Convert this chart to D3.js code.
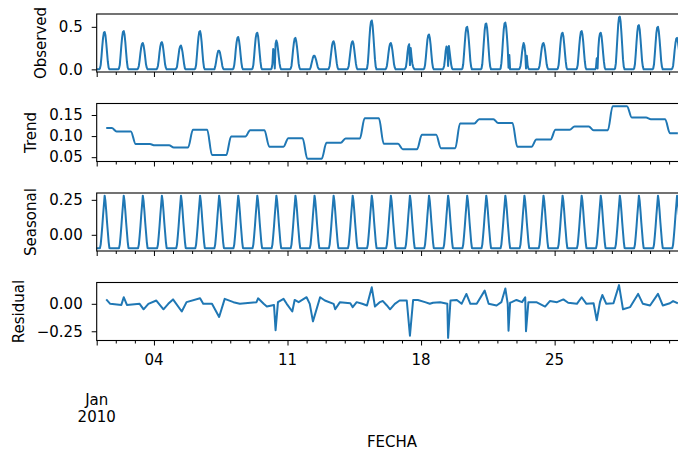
<!DOCTYPE html>
<html>
<head>
<meta charset="utf-8">
<script src="https://cdn.jsdelivr.net/npm/d3@7"></script>
<style>
  body { margin: 0; background: #fff; }
  svg { display: block; font-family: "DejaVu Sans", sans-serif; }
</style>
</head>
<body>
<div id="chart"></div>
<script>
// observed values for hours 04..15 of each day, Jan 1 .. Jan 31 (night hours are 0)
const obsDay = [
  [0.01, 0.05, 0.15, 0.27, 0.37, 0.43, 0.44, 0.40, 0.31, 0.20, 0.09, 0.02],
  [0.01, 0.05, 0.16, 0.28, 0.38, 0.44, 0.45, 0.41, 0.32, 0.20, 0.09, 0.02],
  [0.01, 0.04, 0.11, 0.19, 0.26, 0.30, 0.31, 0.28, 0.22, 0.14, 0.06, 0.02],
  [0.01, 0.04, 0.11, 0.20, 0.27, 0.31, 0.32, 0.29, 0.22, 0.14, 0.06, 0.02],
  [0.01, 0.03, 0.10, 0.17, 0.24, 0.27, 0.28, 0.25, 0.20, 0.13, 0.06, 0.01],
  [0.01, 0.05, 0.16, 0.28, 0.38, 0.44, 0.45, 0.41, 0.32, 0.20, 0.09, 0.02],
  [0.00, 0.03, 0.08, 0.14, 0.19, 0.22, 0.22, 0.20, 0.15, 0.10, 0.04, 0.01],
  [0.01, 0.05, 0.13, 0.24, 0.32, 0.37, 0.38, 0.34, 0.27, 0.17, 0.08, 0.02],
  [0.01, 0.05, 0.15, 0.27, 0.37, 0.42, 0.43, 0.39, 0.30, 0.19, 0.09, 0.02],
  [0.01, 0.06, 0.24, 0.20, 0.01, 0.30, 0.34, 0.31, 0.24, 0.15, 0.07, 0.02],
  [0.01, 0.04, 0.13, 0.23, 0.31, 0.36, 0.37, 0.33, 0.26, 0.17, 0.07, 0.02],
  [0.00, 0.02, 0.06, 0.10, 0.14, 0.16, 0.16, 0.14, 0.11, 0.07, 0.03, 0.01],
  [0.01, 0.04, 0.12, 0.20, 0.28, 0.32, 0.33, 0.30, 0.23, 0.15, 0.07, 0.02],
  [0.01, 0.04, 0.12, 0.20, 0.28, 0.32, 0.33, 0.30, 0.23, 0.15, 0.07, 0.02],
  [0.01, 0.07, 0.20, 0.36, 0.49, 0.56, 0.575, 0.52, 0.40, 0.26, 0.12, 0.03],
  [0.01, 0.04, 0.11, 0.19, 0.26, 0.30, 0.31, 0.28, 0.22, 0.14, 0.06, 0.02],
  [0.01, 0.03, 0.10, 0.20, 0.27, 0.295, 0.05, 0.25, 0.15, 0.07, 0.03, 0.01],
  [0.01, 0.05, 0.14, 0.25, 0.35, 0.40, 0.41, 0.37, 0.29, 0.18, 0.08, 0.02],
  [0.01, 0.04, 0.12, 0.22, 0.27, 0.25, 0.04, 0.275, 0.20, 0.12, 0.05, 0.01],
  [0.01, 0.06, 0.18, 0.31, 0.43, 0.49, 0.50, 0.45, 0.35, 0.23, 0.10, 0.03],
  [0.01, 0.06, 0.19, 0.33, 0.46, 0.53, 0.54, 0.49, 0.38, 0.24, 0.11, 0.03],
  [0.01, 0.07, 0.19, 0.34, 0.47, 0.54, 0.55, 0.50, 0.39, 0.25, 0.02, 0.17],
  [0.01, 0.04, 0.11, 0.20, 0.27, 0.31, 0.28, 0.20, 0.01, 0.16, 0.05, 0.01],
  [0.01, 0.04, 0.11, 0.19, 0.26, 0.30, 0.31, 0.28, 0.22, 0.14, 0.06, 0.02],
  [0.01, 0.05, 0.15, 0.27, 0.37, 0.42, 0.43, 0.39, 0.30, 0.19, 0.09, 0.02],
  [0.01, 0.05, 0.16, 0.28, 0.38, 0.44, 0.45, 0.41, 0.32, 0.20, 0.09, 0.02],
  [0.02, 0.13, 0.01, 0.25, 0.37, 0.42, 0.43, 0.39, 0.30, 0.19, 0.09, 0.02],
  [0.01, 0.07, 0.22, 0.38, 0.53, 0.61, 0.62, 0.56, 0.43, 0.28, 0.12, 0.03],
  [0.01, 0.06, 0.18, 0.32, 0.44, 0.51, 0.52, 0.47, 0.36, 0.23, 0.10, 0.03],
  [0.01, 0.06, 0.18, 0.31, 0.43, 0.49, 0.50, 0.45, 0.35, 0.23, 0.10, 0.03],
  [0.01, 0.04, 0.13, 0.23, 0.31, 0.36, 0.37, 0.33, 0.26, 0.17, 0.07, 0.02]
];

// seasonal component, one value per hour of the day (same every day)
const seasonalProfile = [
  -0.097, -0.097, -0.097, -0.097, -0.097, -0.07, -0.01, 0.06, 0.14, 0.21, 0.28, 0.24,
  0.17, 0.09, 0.02, -0.05, -0.095, -0.097, -0.097, -0.097, -0.097, -0.097, -0.097, -0.097
];

// trend plateau level for each day
const trendLevels = [
  0.119, 0.111, 0.081, 0.078, 0.073, 0.115, 0.055, 0.099, 0.114, 0.075, 0.095,
  0.046, 0.084, 0.094, 0.142, 0.082, 0.069, 0.103, 0.071, 0.130, 0.140, 0.131,
  0.075, 0.092, 0.115, 0.123, 0.114, 0.171, 0.144, 0.140, 0.107
];

// residual: [hour since Jan 1 00:00, value]
const residPoints = [
  [12, 0.04], [17, 0.0], [31, -0.01], [34, 0.06], [38, -0.01], [54, 0.0], [59, -0.05],
  [65, 0.0], [75, 0.03], [84, -0.05], [90, 0.0], [96, 0.04], [107, -0.07], [113, 0.015],
  [130, 0.05], [134, 0.0], [145, 0.0], [154, -0.12], [161, 0.045], [172, 0.015], [180, 0.0],
  [201, 0.015], [203, 0.05], [210, 0.0], [214, -0.025], [223, -0.01], [225, -0.24], [228, 0.015],
  [235, 0.045], [239, 0.0], [246, -0.07], [249, 0.035], [254, 0.015], [264, 0.06], [268, 0.0],
  [272, -0.16], [281, 0.06], [287, 0.03], [298, 0.0], [300, -0.05], [306, 0.015], [319, 0.005],
  [322, -0.03], [327, 0.015], [334, 0.0], [340, -0.015], [346, 0.15], [350, -0.025], [356, 0.015],
  [360, 0.025], [365, -0.015], [369, -0.05], [375, 0.0], [381, 0.03], [390, 0.03], [394, -0.29],
  [398, 0.035], [404, 0.035], [413, 0.015], [419, 0.0], [423, 0.01], [432, 0.015], [441, 0.0],
  [442, -0.31], [445, 0.03], [453, 0.035], [459, 0.0], [465, 0.09], [470, 0.0], [478, 0.0],
  [488, 0.12], [493, 0.0], [503, -0.015], [509, 0.015], [514, 0.14], [517, 0.0], [518, -0.245],
  [520, 0.01], [522, 0.015], [528, 0.035], [535, 0.015], [539, 0.06], [540, -0.25], [543, 0.015],
  [553, 0.015], [564, -0.025], [570, 0.025], [579, 0.015], [587, 0.04], [593, 0.01], [604, 0.0],
  [610, 0.06], [616, 0.0], [625, 0.005], [629, -0.15], [633, 0.015], [636, 0.08], [641, 0.0],
  [650, 0.005], [657, 0.17], [662, -0.05], [671, -0.03], [681, 0.09], [687, 0.0], [696, -0.015],
  [706, 0.09], [712, -0.015], [721, 0.005], [725, 0.025], [731, 0.005]
];

const panelNames = ["Observed", "Trend", "Seasonal", "Residual"];
const yTicks = [[0, 0.5], [0.05, 0.10, 0.15], [0, 0.25], [-0.25, 0]];
const yFormats = [".1f", ".2f", ".2f", ".2f"];
const xTitle = "FECHA";
const monthLabel = ["Jan", "2010"];

const W = 678, H = 449;
const left = 96.7, right = 687.4;
const panelTop = [14, 103.5, 193, 282.5], panelH = 58;
const blue = "#1f77b4";
const fontSize = 15;

const svg = d3.select("#chart").append("svg").attr("width", W).attr("height", H);

const t0 = Date.UTC(2010, 0, 1);
const hourDate = (h) => new Date(t0 + h * 36e5);
const lastHour = obsDay.length * 24 - 1;
const x = d3.scaleUtc().domain([hourDate(0), hourDate(lastHour)]).range([left, right]);

// lay the read values onto the hourly grid
const observed = [];
obsDay.forEach((row, d) => {
  for (let h = 0; h < 24; h++) {
    const v = h >= 4 && h < 4 + row.length ? row[h - 4] : 0;
    observed.push([d * 24 + h, v]);
  }
});
const seasonal = [];
obsDay.forEach((row, d) => {
  seasonalProfile.forEach((v, h) => seasonal.push([d * 24 + h, v]));
});
const trend = [];
trendLevels.forEach((v, d) => {
  trend.push([Math.max(12, d * 24 + 1), v], [Math.min(lastHour - 12, d * 24 + 19), v]);
});
const series = [observed, trend, seasonal, residPoints];

const days = d3.utcDay.range(hourDate(0), hourDate(lastHour + 1));
const majorDays = days.filter((d) => d.getUTCDay() === 1 || d.getUTCDate() === 1);
const minorDays = days.filter((d) => !majorDays.includes(d));

series.forEach((data, i) => {
  const top = panelTop[i];
  const bottom = top + panelH;
  const [lo, hi] = d3.extent(data, (d) => d[1]);
  const pad = (hi - lo) * 0.05;
  const y = d3.scaleLinear().domain([lo - pad, hi + pad]).range([bottom, top]);

  const g = svg.append("g");

  g.append("path")
    .datum(data)
    .attr("fill", "none")
    .attr("stroke", blue)
    .attr("stroke-width", 2)
    .attr("stroke-linejoin", "round")
    .attr("d", d3.line()
      .x((d) => x(hourDate(d[0])))
      .y((d) => y(d[1]))
      .curve(i === 1 ? d3.curveMonotoneX : d3.curveLinear));

  // y axis
  const ya = g.append("g")
    .attr("transform", `translate(${left},0)`)
    .call(d3.axisLeft(y).tickValues(yTicks[i]).tickFormat(d3.format(yFormats[i]))
      .tickSize(5).tickPadding(9));
  ya.select(".domain").remove();
  ya.selectAll("text").attr("font-size", fontSize).attr("font-family", "DejaVu Sans").attr("fill", "#000");
  ya.selectAll("line").attr("stroke", "#000");

  // x ticks (minor every day, longer on Mondays)
  const xMinor = g.append("g").attr("transform", `translate(0,${bottom})`)
    .call(d3.axisBottom(x).tickValues(minorDays).tickSize(3).tickFormat(""));
  const xMajor = g.append("g").attr("transform", `translate(0,${bottom})`)
    .call(d3.axisBottom(x).tickValues(majorDays).tickSize(5).tickFormat(""));
  [xMinor, xMajor].forEach((a) => {
    a.select(".domain").remove();
    a.selectAll("line").attr("stroke", "#000");
  });

  // frame
  g.append("rect")
    .attr("x", left).attr("y", top)
    .attr("width", right - left).attr("height", panelH)
    .attr("fill", "none").attr("stroke", "#000").attr("stroke-width", 1.1);

  // y label, left of tick labels
  const minX = d3.min(ya.selectAll("text").nodes(), (n) => n.getBBox().x) + left;
  svg.append("text")
    .attr("transform", `translate(${minX - 13},${top + panelH / 2}) rotate(-90)`)
    .attr("text-anchor", "middle")
    .attr("font-size", fontSize)
    .attr("fill", "#000")
    .text(panelNames[i]);

  // date labels on the bottom panel only
  if (i === series.length - 1) {
    g.selectAll(".daylabel")
      .data(majorDays.filter((d) => d.getUTCDate() !== 1))
      .join("text")
      .attr("x", (d) => x(d))
      .attr("y", bottom + 24)
      .attr("text-anchor", "middle")
      .attr("font-size", fontSize)
      .attr("fill", "#000")
      .text(d3.utcFormat("%d"));

    monthLabel.forEach((s, k) => {
      g.append("text")
        .attr("x", x(hourDate(0)))
        .attr("y", bottom + 64 + k * 17)
        .attr("text-anchor", "middle")
        .attr("font-size", fontSize)
        .attr("fill", "#000")
        .text(s);
    });

    g.append("text")
      .attr("x", (left + right) / 2)
      .attr("y", bottom + 106)
      .attr("text-anchor", "middle")
      .attr("font-size", fontSize)
      .attr("fill", "#000")
      .text(xTitle);
  }
});
</script>
</body>
</html>
